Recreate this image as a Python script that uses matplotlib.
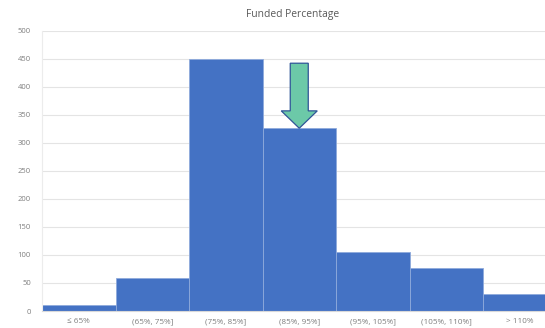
import matplotlib.pyplot as plt

plt.rcParams["font.family"] = ["Open Sans", "DejaVu Sans"]

bins = ["≤ 65%", "(65%, 75%]", "(75%, 85%]", "(85%, 95%]",
        "(95%, 105%]", "(105%, 110%]", "> 110%"]
counts = [10, 59, 450, 326, 105, 76, 30]

# arrow pointing down onto the (85%, 95%] bar
arrow_bin = 3
arrow_top = 442
arrow_tip = counts[arrow_bin]
arrow_head = 31

W, H = 545, 328
fig = plt.figure(figsize=(W / 100, H / 100), dpi=100)
left, bottom, top = 42, 311, 30.7
barpx = 73.5
ax = fig.add_axes([left / W, (H - bottom) / H, 7 * barpx / W, (bottom - top) / H])

ax.bar(range(len(bins)), counts, width=1.0, color="#4472C4",
       edgecolor="#8FAADC", linewidth=0.6, zorder=2)

ax.set_xlim(-0.5, 6.5)
ax.set_ylim(0, 500)
ax.set_yticks(range(0, 501, 50))
ax.set_xticks(range(len(bins)))
ax.set_xticklabels(bins)
ax.tick_params(axis="both", length=0, labelcolor="#7f7f7f")
ax.tick_params(axis="x", pad=5, labelsize=5.9)
ax.tick_params(axis="y", pad=8, labelsize=5.5)
ax.grid(axis="y", color="#e4e4e4", linewidth=0.8, zorder=0)
for side in ["top", "right"]:
    ax.spines[side].set_visible(False)
ax.spines["left"].set_color("#ececec")
ax.spines["bottom"].set_color("#d9d9d9")
ax.spines["left"].set_linewidth(0.8)
ax.spines["bottom"].set_linewidth(0.8)

ax.arrow(arrow_bin, arrow_top, 0, arrow_tip - arrow_top, width=0.245,
         head_width=0.49, head_length=arrow_head, length_includes_head=True,
         facecolor="#6CC9A8", edgecolor="#2F5597", linewidth=0.9, zorder=3)

fig.text(293 / W, 1 - 14 / H, "Funded Percentage", ha="center", va="center",
         fontsize=7.4, color="#595959")

fig.savefig("out.png", dpi=100)
